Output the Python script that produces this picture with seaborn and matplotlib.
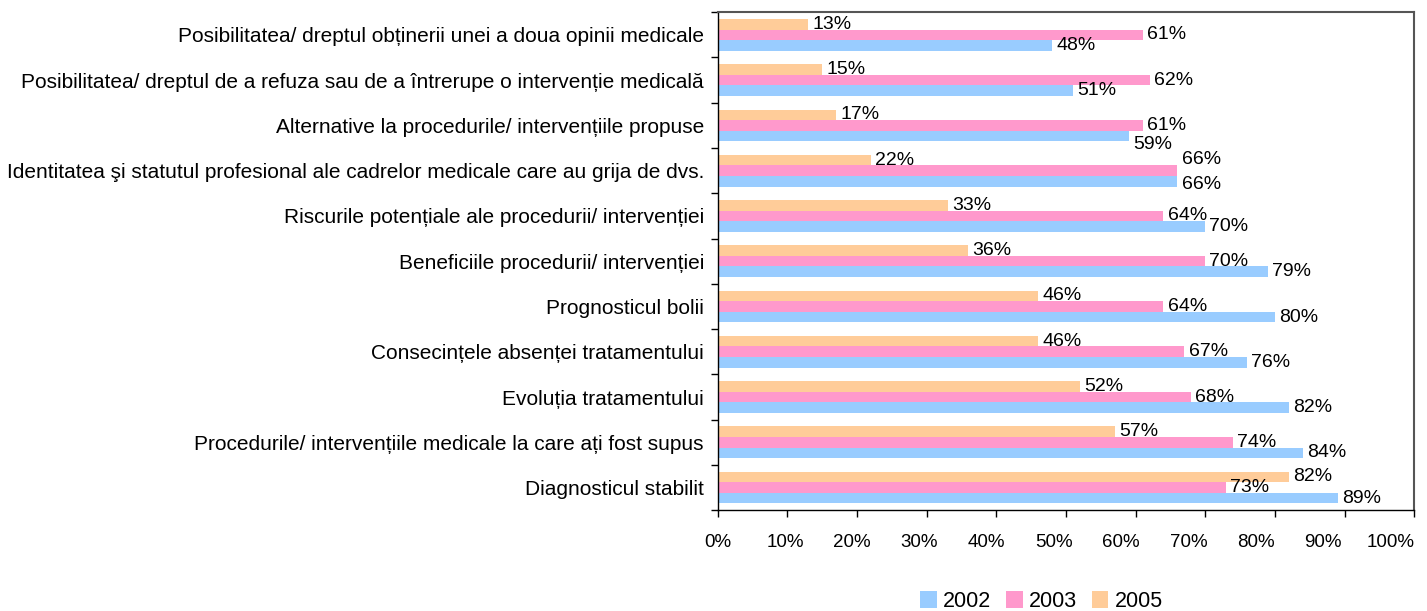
import numpy as np
import pandas as pd
import matplotlib
matplotlib.use('Agg')
import matplotlib.pyplot as plt
import matplotlib.transforms as mtransforms
import seaborn as sns
from matplotlib.patches import Patch

categories = [
    'Posibilitatea/ dreptul obținerii unei a doua opinii medicale',
    'Posibilitatea/ dreptul de a refuza sau de a întrerupe o intervenție medicală',
    'Alternative la procedurile/ intervențiile propuse',
    'Identitatea şi statutul profesional ale cadrelor medicale care au grija de dvs.',
    'Riscurile potențiale ale procedurii/ intervenției',
    'Beneficiile procedurii/ intervenției',
    'Prognosticul bolii',
    'Consecințele absenței tratamentului',
    'Evoluția tratamentului',
    'Procedurile/ intervențiile medicale la care ați fost supus',
    'Diagnosticul stabilit',
]
v2002 = [48, 51, 59, 66, 70, 79, 80, 76, 82, 84, 89]
v2003 = [61, 62, 61, 66, 64, 70, 64, 67, 68, 74, 73]
v2005 = [13, 15, 17, 22, 33, 36, 46, 46, 52, 57, 82]
years = ['2002', '2003', '2005']
colors = {'2002': '#99CCFF', '2003': '#FF99CC', '2005': '#FFCC99'}
xticks = [0, 10, 20, 30, 40, 50, 60, 70, 80, 90, 100]

df = pd.concat([
    pd.DataFrame({'cat': categories, 'year': '2002', 'val': v2002}),
    pd.DataFrame({'cat': categories, 'year': '2003', 'val': v2003}),
    pd.DataFrame({'cat': categories, 'year': '2005', 'val': v2005}),
])

sns.set_style('ticks')
plt.rcParams['font.family'] = ['Liberation Sans', 'DejaVu Sans']
plt.rcParams['text.color'] = 'black'
plt.rcParams['xtick.color'] = 'black'
plt.rcParams['ytick.color'] = 'black'

fig = plt.figure(figsize=(14.27, 6.11), dpi=100)
ax = fig.add_axes([0.503, 0.165, 0.488, 0.815])

sns.barplot(data=df, y='cat', x='val', hue='year', order=categories,
            hue_order=['2005', '2003', '2002'], palette=colors,
            orient='h', width=0.7, saturation=1, linewidth=0, ax=ax, legend=False)

# containers follow hue_order: 2005, 2003, 2002
labels = {}
for cont, yr in zip(ax.containers, ['2005', '2003', '2002']):
    labels[yr] = ax.bar_label(cont, fmt='%.0f%%', padding=3, fontsize=14)

# nudge labels that sit on top of each other (as in the original)
labels['2002'][2].xyann = (3, -6)
labels['2003'][3].xyann = (3, 8)
labels['2002'][3].xyann = (3, -2)

ax.set_xlim(0, 100)
ax.set_xticks(xticks)
ax.set_xticklabels([])
ax.tick_params(axis='x', length=5, width=1, color='black')
# x tick labels drawn by hand: the original squeezes them slightly to the left
base = ax.get_xaxis_transform()
for i, t in enumerate(xticks):
    shift = mtransforms.ScaledTranslation(-0.024 * i, -0.24, fig.dpi_scale_trans)
    ax.text(t, 0, f'{t}%', transform=base + shift, ha='center', va='top',
            fontsize=13.5)

ax.tick_params(axis='y', which='major', length=0, labelsize=15, pad=10)
ax.set_yticks(np.arange(-0.5, len(categories), 1), minor=True)
ax.tick_params(axis='y', which='minor', length=5, width=1, color='black')
ax.set_ylim(len(categories) - 0.5, -0.5)
ax.set_xlabel('')
ax.set_ylabel('')
for s in ['left', 'bottom']:
    ax.spines[s].set_color('black')
    ax.spines[s].set_linewidth(1)
for s in ['top', 'right']:
    ax.spines[s].set_visible(True)
    ax.spines[s].set_color('#555555')
    ax.spines[s].set_linewidth(1.5)

handles = [Patch(facecolor=colors[y], edgecolor='none') for y in years]
fig.legend(handles, years, loc='lower center', bbox_to_anchor=(0.73, -0.033),
           ncol=3, frameon=False, fontsize=15.5, handlelength=0.75,
           handleheight=0.85, handletextpad=0.3, columnspacing=0.7)

fig.savefig('out.png', dpi=100)
